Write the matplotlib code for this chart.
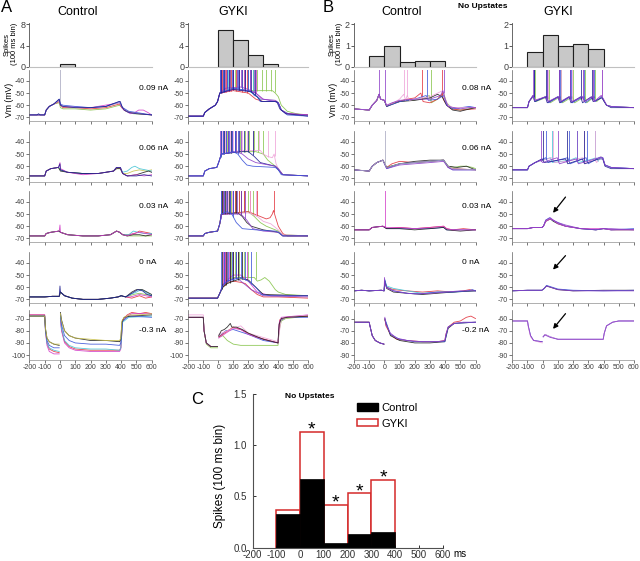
import numpy as np
import matplotlib.pyplot as plt
from matplotlib.patches import Patch

plt.rcParams['font.family'] = ['Liberation Sans', 'DejaVu Sans']
plt.rcParams['axes.unicode_minus'] = False

nan = np.nan

# trace colours
K, NV, BL, RD, MG = '#202020', '#1f1f8f', '#3a52d8', '#e2323c', '#d23cc8'
GR, CY, PU, PK, YE, GY = '#86c44a', '#44c4d4', '#8c3ec8', '#eea2d8', '#c8c04a', '#a8a8c0'

# spike histograms, 100 ms bins (left edges)
bins = [-100, 0, 100, 200, 300]
hist_a_ctl = [0, 0.5, 0, 0, 0]
hist_a_gyki = [0, 6.9, 5.1, 2.25, 0.65]
hist_b_ctl = [0.51, 1.0, 0.22, 0.29, 0.29]
hist_b_gyki = [0.70, 1.51, 1.0, 1.09, 0.84]

# panel C
c_bins = [-100, 0, 100, 200, 300]
c_control = [0.33, 0.67, 0.05, 0.13, 0.15]
c_gyki = [0.37, 1.13, 0.42, 0.53, 0.66]
c_sig = [False, True, True, True, True]

# current steps
a_currents = ['0.09 nA', '0.06 nA', '0.03 nA', '0 nA', '-0.3 nA']
b_currents = ['0.08 nA', '0.06 nA', '0.03 nA', '0 nA', '-0.2 nA']

# ---------------- A, control: traces (time ms, Vm mV), spike times
pre_ac1 = [(-200, -68), (-150, -68), (-100, -68), (-90, -64), (-70, -61), (-40, -59)]
a_ctl_r1 = [
    (GR, pre_ac1 + [(-5, -58), (3, -62), (20, -63), (100, -63), (200, -64), (300, -63), (390, -60), (405, -62), (430, -65), (480, -67), (600, -68)], []),
    (RD, pre_ac1 + [(-5, -57), (3, -60), (20, -62), (100, -62), (200, -63), (300, -62), (390, -59), (405, -62), (420, -64), (460, -66), (520, -67), (600, -68)], []),
    (MG, pre_ac1 + [(-5, -56), (3, -60), (20, -61), (200, -62), (390, -58), (405, -62), (420, -64), (460, -67), (490, -66), (515, -64), (545, -64), (575, -66), (600, -68)], []),
    (GY, pre_ac1 + [(-5, -56), (3, -60), (20, -61), (100, -62), (200, -62), (300, -61), (390, -58), (410, -62), (450, -66), (600, -68)], [0]),
    (BL, pre_ac1 + [(-5, -55), (3, -59), (20, -60), (100, -61), (200, -62), (300, -61), (390, -57), (410, -62), (450, -65), (500, -66), (550, -67), (600, -68)], []),
    (NV, [(-200, -68), (-150, -68), (-140, -67), (-130, -68), (-100, -68), (-90, -64), (-70, -61), (-40, -59), (-5, -55), (3, -60), (20, -61), (100, -62), (200, -62), (300, -61), (385, -57), (395, -57), (405, -61), (420, -64), (450, -66), (500, -67), (600, -68)], []),
]

pre_ac2 = [(-200, -68), (-100, -68), (-90, -64), (-60, -62), (-10, -61)]
a_ctl_r2 = [
    (YE, pre_ac2 + [(3, -63), (50, -65), (150, -66), (250, -66), (350, -64), (370, -62), (395, -62), (410, -66), (440, -66), (480, -64), (520, -63), (560, -64), (600, -63)], []),
    (CY, pre_ac2 + [(3, -63), (50, -65), (150, -66), (250, -66), (350, -64), (370, -61), (395, -61), (410, -65), (440, -64), (470, -61), (490, -60), (520, -62), (560, -63), (600, -64)], []),
    (K, pre_ac2 + [(3, -64), (50, -65), (150, -66), (250, -66), (350, -64), (370, -62), (395, -62), (410, -66), (440, -68), (500, -67), (550, -65), (580, -64), (600, -65)], []),
    (MG, pre_ac2 + [(0, -57), (3, -62), (50, -65), (150, -67), (250, -66), (350, -64), (370, -61), (395, -61), (410, -66), (440, -68), (500, -67), (550, -68), (600, -67)], []),
    (NV, pre_ac2 + [(0, -58), (3, -63), (50, -65), (150, -66), (250, -66), (350, -64), (370, -61), (395, -61), (410, -66), (440, -68), (500, -68), (550, -67), (600, -68)], []),
]

pre_ac3 = [(-200, -68), (-100, -68), (-90, -66), (-60, -65), (-5, -64)]
post_ac3 = [(3, -65), (50, -67), (150, -68), (250, -68), (330, -67), (370, -64), (390, -65), (410, -67)]
a_ctl_r3 = [
    (GR, pre_ac3 + post_ac3 + [(440, -68), (500, -68), (600, -68)], []),
    (RD, pre_ac3 + post_ac3 + [(450, -67), (490, -66), (520, -64), (560, -65), (600, -66)], []),
    (CY, pre_ac3 + post_ac3 + [(450, -67), (480, -64), (510, -65), (550, -66), (600, -66)], []),
    (K, pre_ac3 + post_ac3 + [(440, -68), (480, -67), (520, -67), (560, -68), (600, -67)], []),
    (MG, pre_ac3 + [(0, -59)] + post_ac3 + [(440, -68), (480, -66), (520, -65), (560, -66), (600, -67)], []),
]

pre_ac4 = [(-200, -68), (-100, -68), (-50, -67.5), (-5, -67.5)]
post_ac4 = [(3, -64), (30, -67), (80, -69), (150, -70), (250, -70), (330, -69), (380, -68), (400, -67), (430, -68)]
a_ctl_r4 = [
    (RD, pre_ac4 + post_ac4 + [(470, -69), (520, -67), (560, -69), (600, -68)], []),
    (GR, pre_ac4 + post_ac4 + [(480, -66), (520, -65), (560, -66), (600, -67)], []),
    (MG, pre_ac4 + post_ac4 + [(460, -68), (520, -66), (560, -67), (600, -68)], []),
    (CY, pre_ac4 + post_ac4 + [(460, -66), (500, -64), (530, -62), (560, -64), (600, -67)], []),
    (K, pre_ac4 + post_ac4 + [(470, -64), (500, -62), (540, -62), (570, -64), (600, -66)], []),
    (NV, pre_ac4 + [(0, -59)] + post_ac4 + [(470, -65), (510, -62), (540, -63), (570, -66), (600, -67)], []),
]

a_ctl_r5 = [
    (RD, [(-200, -67), (-100, -67), (-95, -80), (-85, -90), (-70, -95), (-40, -97), (-5, -98), (0, nan), (3, -70), (10, -79), (30, -89), (60, -93), (100, -95), (200, -96), (300, -96), (390, -96), (398, -94), (410, -71), (440, -67), (470, -65), (520, -66), (560, -65), (600, -66)], []),
    (MG, [(-200, -67), (-100, -67), (-95, -81), (-85, -92), (-70, -97), (-40, -99), (-5, -99), (0, nan), (3, -70), (10, -80), (30, -90), (60, -94), (100, -96), (200, -97), (300, -97), (390, -97), (398, -95), (410, -72), (440, -68), (470, -66), (540, -66), (600, -66)], []),
    (CY, [(-200, -68), (-100, -68), (-95, -80), (-85, -90), (-70, -94), (-40, -96), (-5, -97), (0, nan), (3, -68), (10, -78), (30, -88), (60, -92), (100, -94), (200, -95), (300, -95), (390, -96), (398, -94), (410, -73), (450, -69), (600, -68)], []),
    (BL, [(-200, -68), (-100, -68), (-95, -79), (-85, -88), (-70, -92), (-40, -94), (-5, -94), (0, nan), (3, -67), (10, -75), (30, -84), (60, -88), (100, -90), (200, -91), (300, -91), (390, -92), (398, -90), (410, -72), (450, -68), (600, -69)], []),
    (K, [(-200, -68), (-100, -68), (-95, -78), (-85, -86), (-70, -89), (-40, -91), (-5, -92), (0, nan), (3, -65), (10, -71), (30, -80), (60, -84), (100, -86), (200, -88), (300, -88), (390, -89), (398, -87), (405, -73), (420, -69), (460, -68), (600, -67)], []),
    (YE, [(-200, -68), (-100, -68), (-95, -78), (-85, -86), (-70, -89), (-40, -91), (-5, -91), (0, nan), (3, -66), (10, -72), (30, -80), (60, -84), (100, -86), (200, -87), (300, -88), (390, -88), (398, -86), (405, -72), (420, -69), (460, -67), (520, -67), (600, -66)], []),
]

# ---------------- A, GYKI
pre_ag1 = [(-200, -69), (-100, -69), (-90, -66), (-60, -63), (-20, -60), (-5, -57), (10, -50)]
a_gyki_r1 = [
    (GR, pre_ag1 + [(100, -47), (200, -48), (300, -48), (360, -48), (380, -50), (400, -53), (420, -60), (460, -65), (520, -67), (600, -68)], [20, 45, 80, 110, 140, 170, 200, 230, 260, 290, 320, 350, 375]),
    (CY, pre_ag1 + [(100, -46), (200, -48), (240, -51), (280, -55), (380, -56), (400, -58), (420, -64), (470, -67), (600, -68)], [15, 40, 65, 95, 125, 160, 195, 230]),
    (RD, pre_ag1 + [(100, -48), (200, -50), (250, -55), (300, -57), (380, -57), (400, -58), (420, -64), (460, -67), (600, -68)], [25, 50, 85, 120, 155, 190]),
    (MG, pre_ag1 + [(100, -47), (200, -48), (250, -50), (290, -55), (380, -56), (400, -58), (420, -64), (460, -67), (600, -68)], [18, 42, 70, 100, 135, 170, 210, 250]),
    (PU, pre_ag1 + [(50, -46), (150, -45), (200, -47), (250, -50), (300, -55), (380, -57), (400, -58), (420, -64), (460, -67), (600, -68)], [12, 30, 55, 75, 100, 125, 150, 180, 210, 240]),
    (BL, pre_ag1 + [(100, -46), (200, -48), (220, -49), (240, -52), (260, -53), (280, -57), (380, -57), (400, -58), (420, -64), (460, -68), (600, -69)], [12, 28, 60, 90, 130, 160, 200]),
    (NV, pre_ag1 + [(100, -47), (220, -49), (250, -52), (290, -57), (390, -57), (410, -63), (450, -67), (600, -69)], [18, 38, 70, 95, 140, 180, 220, 245]),
]

pre_ag2 = [(-200, -68), (-100, -68), (-90, -64), (-60, -62), (-10, -61), (5, -56), (20, -50)]
a_gyki_r2 = [
    (GR, pre_ag2 + [(150, -48), (250, -48), (300, -50), (330, -55), (380, -60), (400, -62), (430, -67), (600, -68)], [15, 35, 60, 85, 115, 145, 175, 205, 235, 265, 295]),
    (PK, pre_ag2 + [(150, -47), (280, -47), (300, -50), (330, -52), (360, -53), (372, -50), (385, -58), (400, -62), (430, -67), (600, -68)], [25, 45, 75, 100, 130, 160, 190, 230, 270, 330, 375]),
    (NV, pre_ag2 + [(150, -48), (200, -48), (240, -52), (280, -57), (380, -60), (400, -63), (430, -67), (600, -68)], [20, 40, 65, 85, 110, 140, 170, 200, 230]),
    (PU, pre_ag2 + [(120, -48), (160, -50), (200, -54), (250, -57), (380, -60), (400, -62), (430, -67), (600, -68)], [12, 28, 48, 66, 88, 120, 150]),
    (BL, pre_ag2 + [(100, -48), (130, -50), (160, -55), (190, -59), (230, -60), (380, -61), (400, -63), (420, -67), (600, -68)], [15, 30, 50, 70, 90, 110, 130]),
]

pre_ag3 = [(-200, -68), (-100, -68), (-90, -66), (-60, -65), (-5, -64), (10, -58), (20, -50)]
a_gyki_r3 = [
    (GR, pre_ag3 + [(200, -48), (240, -52), (280, -57), (320, -60), (400, -64), (430, -67), (600, -68)], [22, 40, 60, 85, 110, 140, 170, 200, 230]),
    (RD, pre_ag3 + [(200, -48), (240, -50), (280, -52), (320, -54), (345, -53), (360, -50), (368, -47), (380, -52), (400, -60), (430, -66), (460, -68), (600, -68)], [30, 55, 80, 110, 140, 170, 210, 260, 372]),
    (PK, pre_ag3 + [(200, -49), (260, -52), (300, -56), (350, -58), (400, -63), (430, -67), (600, -68)], [18, 38, 62, 90, 120, 150, 180, 210, 250]),
    (K, pre_ag3 + [(130, -49), (160, -52), (190, -57), (220, -60), (300, -63), (400, -65), (430, -68), (600, -68)], [25, 45, 70, 95, 120, 150]),
    (PU, pre_ag3 + [(150, -50), (190, -55), (230, -62), (300, -64), (400, -65), (430, -68), (600, -68)], [15, 30, 50, 75, 95, 125, 150, 180]),
    (BL, pre_ag3 + [(60, -48), (90, -50), (120, -57), (160, -62), (250, -63), (380, -64), (400, -65), (430, -68), (600, -68)], [20, 35, 55, 80, 100]),
]

pre_ag4 = [(-200, -69), (-100, -69), (-5, -69), (10, -65)]
a_gyki_r4 = [
    (GR, pre_ag4 + [(30, -60), (60, -56), (100, -52), (200, -52), (240, -52), (260, -55), (285, -54), (310, -52), (340, -55), (380, -62), (400, -64), (450, -66), (600, -67)], [60, 85, 110, 140, 170, 200, 250]),
    (RD, pre_ag4 + [(30, -60), (60, -56), (100, -55), (150, -56), (180, -57), (220, -62), (260, -66), (300, -68), (400, -68), (600, -69)], [45]),
    (MG, pre_ag4 + [(30, -58), (60, -54), (100, -50), (150, -50), (200, -55), (260, -64), (350, -67), (600, -67)], [30, 45, 70, 100, 130, 190]),
    (PU, pre_ag4 + [(30, -58), (60, -55), (120, -52), (160, -56), (220, -62), (300, -67), (600, -68)], [35, 55, 80, 120]),
    (K, pre_ag4 + [(30, -60), (60, -57), (100, -55), (150, -53), (200, -54), (250, -60), (300, -66), (600, -67)], [25, 50, 75, 95, 130, 160]),
    (BL, pre_ag4 + [(30, -59), (60, -55), (150, -52), (200, -55), (250, -60), (290, -66), (350, -67), (600, -67)], [20, 40, 65, 90, 120, 150, 180, 220]),
]

pre_ag5 = [(-200, -69), (-100, -69), (-95, -80), (-80, -90), (-50, -93), (-5, -93), (0, nan)]
a_gyki_r5 = [
    (GR, [(-200, -69), (-100, -69), (-95, -80), (-80, -91), (-50, -94), (-5, -94), (0, nan), (3, -85), (30, -84), (60, -88), (100, -91), (150, -92), (398, -92), (405, -80), (420, -72), (450, -70), (600, -68)], []),
    (BL, pre_ag5 + [(3, -85), (50, -80), (100, -79), (200, -83), (300, -88), (398, -90), (410, -72), (450, -69), (600, -69)], []),
    (RD, pre_ag5 + [(3, -85), (40, -82), (100, -77), (150, -79), (250, -85), (398, -90), (410, -71), (450, -69), (600, -68)], []),
    (MG, pre_ag5 + [(3, -86), (50, -82), (100, -78), (150, -79), (200, -83), (300, -87), (398, -90), (405, -74), (420, -69), (600, -67)], []),
    (PK, [(-200, -67), (-100, -67), (-95, -80), (-80, -90), (-50, -93), (-5, -93), (0, nan), (3, -83), (60, -80), (100, -78), (150, -76), (200, -82), (398, -89), (420, -70), (600, -67)], []),
    (K, pre_ag5 + [(3, -84), (20, -80), (40, -79), (60, -77), (80, -74), (90, -77), (120, -77), (160, -79), (200, -82), (300, -87), (398, -90), (405, -75), (420, -70), (460, -69), (600, -68)], []),
]

# ---------------- B, control
pre_bc1 = [(-200, -63), (-100, -64), (-80, -60), (-50, -56), (-35, -51), (-25, -55), (0, -56)]
b_ctl_r1 = [
    (GR, pre_bc1 + [(15, -61), (60, -58), (150, -56), (250, -55), (295, -52), (310, -58), (350, -55), (390, -50), (410, -58), (450, -63), (500, -64), (600, -62)], [305]),
    (RD, pre_bc1 + [(15, -61), (60, -58), (150, -55), (200, -54), (240, -50), (255, -57), (300, -58), (350, -55), (378, -51), (392, -56), (410, -60), (440, -63), (500, -64), (600, -63)], [246, 381]),
    (K, pre_bc1 + [(15, -61), (100, -57), (200, -56), (300, -54), (350, -51), (380, -53), (410, -60), (450, -64), (500, -65), (530, -64), (600, -62)], []),
    (BL, pre_bc1 + [(15, -61), (100, -57), (200, -55), (275, -52), (290, -56), (350, -55), (390, -52), (410, -60), (450, -63), (560, -61), (600, -62)], [279]),
    (PK, pre_bc1 + [(15, -60), (60, -58), (100, -55), (128, -51), (140, -56), (150, -52), (165, -56), (200, -55), (300, -53), (385, -48), (400, -55), (420, -60), (450, -62), (600, -62)], [130, 151]),
    (PU, pre_bc1 + [(15, -60), (50, -58), (100, -56), (200, -55), (300, -55), (370, -52), (385, -48), (400, -55), (420, -61), (500, -63), (560, -62), (600, -62)], [-33, 5, 390]),
]

pre_bc2 = [(-200, -63), (-100, -64), (-80, -60), (-50, -57), (-10, -55)]
b_ctl_r2 = [
    (GR, pre_bc2 + [(15, -61), (100, -58), (200, -57), (300, -56), (390, -55), (420, -60), (460, -61), (500, -60), (540, -60), (580, -61), (600, -62)], []),
    (RD, pre_bc2 + [(15, -61), (50, -58), (100, -56), (200, -57), (300, -56), (390, -55), (420, -61), (460, -62), (600, -63)], []),
    (K, pre_bc2 + [(15, -61), (100, -58), (200, -56), (300, -55), (390, -55), (420, -60), (480, -61), (540, -60), (600, -63)], []),
    (BL, pre_bc2 + [(15, -62), (100, -58), (200, -57), (300, -56), (390, -55), (420, -61), (450, -63), (600, -63)], []),
    (PU, pre_bc2 + [(15, -62), (100, -59), (200, -58), (300, -57), (390, -56), (420, -61), (450, -63), (500, -63), (600, -63)], []),
    (GY, pre_bc2 + [(15, -61), (100, -58), (200, -57), (300, -56), (390, -55), (420, -60), (450, -62), (600, -63)], [5]),
]

pre_bc3 = [(-200, -63), (-100, -63), (-80, -61), (-10, -60)]
b_ctl_r3 = [
    (RD, pre_bc3 + [(15, -62), (100, -61), (200, -62), (300, -61), (390, -60), (410, -62), (450, -63), (520, -62), (600, -63)], []),
    (BL, pre_bc3 + [(15, -62), (100, -62), (200, -62), (300, -62), (390, -61), (410, -63), (600, -63)], []),
    (K, pre_bc3 + [(15, -62), (100, -62), (200, -63), (300, -62), (390, -61), (410, -63), (500, -64), (600, -63)], []),
    (MG, pre_bc3 + [(15, -61), (100, -61), (200, -62), (300, -61), (390, -60), (410, -62), (450, -63), (600, -63)], [5]),
]

pre_bc4 = [(-200, -63), (-150, -62.5), (-100, -63), (-20, -62.5), (-2, -63)]
b_ctl_r4 = [
    (RD, pre_bc4 + [(3, -55), (15, -60), (60, -62), (150, -63), (250, -64), (350, -63), (450, -64), (520, -63), (560, -62), (600, -63)], []),
    (CY, pre_bc4 + [(3, -54), (15, -59), (60, -61), (150, -63), (250, -65), (350, -64), (450, -64), (600, -63)], []),
    (K, pre_bc4 + [(3, -55), (15, -61), (60, -64), (150, -65), (250, -66), (350, -65), (450, -64), (600, -63)], []),
    (BL, pre_bc4 + [(3, -54), (15, -60), (60, -63), (150, -65), (235, -65.5), (350, -64), (450, -64), (550, -63), (580, -62), (600, -63)], []),
    (PU, pre_bc4 + [(1, -52), (5, -58), (20, -61), (60, -63), (150, -65), (200, -65.5), (300, -65), (400, -64), (500, -63), (600, -63)], []),
]

pre_bc5 = [(-200, -63), (-100, -63), (-95, -66), (-80, -74), (-60, -78), (-30, -80), (-3, -81), (0, nan)]
b_ctl_r5 = [
    (RD, pre_bc5 + [(3, -60), (10, -66), (40, -73), (80, -77), (150, -78), (250, -79), (350, -79), (398, -78), (405, -73), (420, -67), (460, -63), (500, -62), (540, -59), (570, -58), (600, -60)], []),
    (K, pre_bc5 + [(3, -61), (40, -74), (100, -78), (200, -80), (300, -80), (398, -79), (420, -68), (460, -64), (600, -63)], []),
    (BL, pre_bc5 + [(3, -60), (40, -73), (100, -77), (200, -79), (300, -79), (398, -79), (420, -67), (460, -64), (600, -63)], []),
    (PU, pre_bc5 + [(3, -59), (10, -65), (40, -72), (80, -76), (150, -78), (250, -79), (350, -79), (398, -78), (405, -73), (420, -67), (460, -64), (520, -63), (600, -63)], []),
]

# ---------------- B, GYKI
b_gyki_r1 = [
    (GR, [(-200, -62), (-100, -62), (-90, -57), (-55, -52), (-45, -57), (35, -53), (50, -58), (115, -53), (130, -58), (195, -53), (210, -58), (275, -53), (290, -58), (340, -53), (355, -57), (390, -53), (400, -56), (420, -60), (450, -61), (600, -62)], [-50, 40, 122, 200, 280, 345]),
    (PK, [(-200, -62), (-100, -62), (-90, -57), (-58, -52), (-48, -56), (28, -53), (42, -57), (112, -53), (125, -57), (188, -53), (200, -57), (258, -53), (270, -57), (325, -53), (338, -57), (385, -52), (400, -55), (420, -60), (450, -61), (600, -62)], [-55, 33, 118, 192, 262, 330, 390]),
    (BL, [(-200, -62), (-100, -62), (-90, -57), (-60, -52), (-50, -57), (25, -53), (40, -58), (105, -53), (120, -58), (180, -53), (195, -58), (265, -53), (280, -58), (335, -53), (345, -57), (390, -53), (400, -56), (420, -60), (450, -61), (600, -62)], [-58, 30, 112, 185, 272, 338]),
    (NV, [(-200, -62), (-100, -62), (-90, -57), (-63, -52), (-53, -57), (17, -53), (30, -58), (100, -53), (112, -58), (173, -53), (186, -58), (250, -53), (262, -58), (320, -53), (332, -57), (390, -54), (400, -56), (420, -60), (450, -62), (600, -62)], [-60, 22, 104, 178, 255, 325]),
    (PU, [(-200, -62), (-100, -62), (-90, -57), (-65, -52), (-55, -56), (20, -53), (35, -57), (100, -53), (115, -57), (175, -53), (190, -57), (260, -53), (275, -57), (328, -53), (340, -57), (385, -52), (400, -55), (420, -60), (450, -61), (600, -62)], [-62, 26, 107, 180, 267, 333, 388]),
]

pre_bg2 = [(-200, -63), (-100, -63), (-90, -60), (-50, -57)]
b_gyki_r2 = [
    (CY, pre_bg2 + [(50, -53), (65, -57), (180, -55), (220, -53), (235, -57), (330, -54), (350, -53), (365, -56), (380, -52), (395, -53), (410, -59), (450, -61), (600, -62)], [58, 224, 347]),
    (PK, pre_bg2 + [(60, -53), (75, -57), (150, -56), (265, -53), (280, -58), (340, -54), (355, -57), (380, -52), (395, -53), (410, -59), (450, -61), (600, -62)], [68, 270, 345]),
    (BL, pre_bg2 + [(20, -53), (35, -57), (165, -53), (180, -58), (285, -53), (300, -58), (370, -53), (395, -53), (410, -59), (450, -61), (600, -62)], [25, 170, 290]),
    (NV, pre_bg2 + [(-5, -54), (10, -57), (150, -54), (165, -58), (260, -54), (275, -58), (370, -54), (395, -54), (410, -60), (450, -62), (600, -62)], [0, 160, 269]),
    (PU, pre_bg2 + [(-15, -55), (0, -57), (95, -53), (110, -58), (220, -54), (235, -58), (370, -53), (395, -53), (410, -59), (450, -61), (600, -62)], [-10, 100, 225]),
]

pre_bg3 = [(-200, -62), (-100, -62), (-60, -61), (-5, -61)]
b_gyki_r3 = [
    (K, pre_bg3 + [(5, -60), (20, -56), (50, -54), (70, -56), (100, -58), (150, -60), (250, -62), (350, -63), (400, -62), (450, -63), (600, -63)], []),
    (BL, pre_bg3 + [(5, -60), (20, -55), (45, -53), (65, -55), (100, -57), (150, -60), (250, -62), (350, -63), (400, -62), (450, -63), (600, -62)], []),
    (MG, pre_bg3 + [(5, -60), (20, -56), (50, -54), (70, -55), (100, -58), (150, -60), (250, -62), (350, -62), (400, -62), (450, -63), (600, -63)], []),
    (PU, pre_bg3 + [(5, -60), (20, -55), (50, -53), (70, -55), (100, -57), (150, -59), (250, -62), (350, -63), (400, -62), (450, -62), (600, -63)], []),
]

pre_bg4 = [(-200, -63), (-100, -62.5), (-5, -62.5)]
b_gyki_r4 = [
    (K, pre_bg4 + [(10, -61), (25, -59), (50, -60), (100, -62), (200, -63), (400, -62.5), (600, -62.5)], []),
    (BL, pre_bg4 + [(10, -61), (25, -58.5), (50, -59.5), (100, -61.5), (200, -62.5), (400, -63), (600, -62.5)], []),
    (PU, pre_bg4 + [(10, -61), (25, -59), (50, -60), (100, -62), (200, -63), (400, -63), (600, -63)], []),
]

b_gyki_r5 = [
    (BL, [(-200, -62), (-100, -62), (-95, -66), (-80, -74), (-60, -78), (-3, -79), (0, nan), (3, -75), (15, -73), (50, -75), (100, -77), (200, -77), (398, -77), (405, -72), (420, -66), (460, -63), (500, -62), (600, -62)], []),
    (PK, [(-200, -62), (-100, -62), (-95, -67), (-80, -75), (-60, -78), (-3, -80), (0, nan), (3, -75), (15, -73), (50, -75), (100, -77), (200, -77), (398, -77), (405, -72), (420, -66), (460, -63), (500, -62), (600, -62)], []),
    (PU, [(-200, -62), (-100, -62), (-95, -66), (-80, -74), (-60, -78), (-3, -79), (0, nan), (3, -75), (15, -73.5), (50, -75.5), (100, -77), (200, -77), (398, -77), (405, -72), (420, -66), (460, -63), (500, -62), (600, -62)], []),
]

# arrows in B GYKI (tip, tail) per row 3..5
b_arrows = [((68, -49), (150, -36)), ((68, -45.5), (150, -34)), ((68, -68.5), (150, -56))]

# ---------------- layout (pixels)
W, H = 640, 561


def box(l, t, r, b):
    return [l / W, 1 - b / H, (r - l) / W, (b - t) / H]


cols = [(29.4, 151.7), (188.3, 308.3), (354, 475.5), (512.3, 633.9)]
rows = [(70, 121), (131, 182), (191, 242), (252, 303), (310, 360)]
hist_rows = (23, 67)

columns = [
    (hist_a_ctl, (0, 8.2), [0, 4, 8], [a_ctl_r1, a_ctl_r2, a_ctl_r3, a_ctl_r4, a_ctl_r5], (-104, -63), [-70, -80, -90, -100]),
    (hist_a_gyki, (0, 8.2), [0, 4, 8], [a_gyki_r1, a_gyki_r2, a_gyki_r3, a_gyki_r4, a_gyki_r5], (-104, -63), [-70, -80, -90, -100]),
    (hist_b_ctl, (0, 2.05), [0, 1, 2], [b_ctl_r1, b_ctl_r2, b_ctl_r3, b_ctl_r4, b_ctl_r5], (-94, -53), [-60, -70, -80, -90]),
    (hist_b_gyki, (0, 2.05), [0, 1, 2], [b_gyki_r1, b_gyki_r2, b_gyki_r3, b_gyki_r4, b_gyki_r5], (-94, -53), [-60, -70, -80, -90]),
]

fig = plt.figure(figsize=(6.4, 5.61), dpi=100)
fig.patch.set_facecolor('white')

for ci, (hist, hylim, hticks, traces, ylim5, yticks5) in enumerate(columns):
    l, r = cols[ci]
    # histogram
    ah = fig.add_axes(box(l, hist_rows[0], r, hist_rows[1]))
    keep = [i for i, v in enumerate(hist) if v > 0]
    ah.bar([bins[i] for i in keep], [hist[i] for i in keep], width=100, align='edge',
           color='#c8c8c8', edgecolor='#202020', linewidth=0.8)
    ah.set_xlim(-200, 600)
    ah.set_ylim(*hylim)
    ah.set_yticks(hticks)
    ah.set_xticks([])
    for s in ['top', 'right']:
        ah.spines[s].set_visible(False)
    ah.spines['bottom'].set_color('#c0c0c0')
    ah.spines['left'].set_color('#505050')
    ah.spines['left'].set_linewidth(0.6)
    ah.tick_params(axis='y', labelsize=6.5, length=2, width=0.6, pad=1, colors='#404040')

    for ri, row in enumerate(traces):
        t, b = rows[ri]
        ax = fig.add_axes(box(l, t, r, b))
        for color, pts, spikes in row:
            a = np.array(pts, dtype=float)
            ax.plot(a[:, 0], a[:, 1], color=color, lw=0.6, alpha=0.9)
            if spikes:
                base = np.interp(spikes, a[:, 0], a[:, 1])
                ax.vlines(spikes, base, 0, color=color, lw=0.6, alpha=0.9)
        ax.set_xlim(-200, 600)
        if ri < 4:
            ax.set_ylim(-73, -31)
            ax.set_yticks([-40, -50, -60, -70])
        else:
            ax.set_ylim(*ylim5)
            ax.set_yticks(yticks5)
        ax.set_xticks(range(-200, 601, 100))
        if ri < 4:
            ax.set_xticklabels([])
        for s in ['top', 'right']:
            ax.spines[s].set_visible(False)
        ax.spines['left'].set_color('#606060')
        ax.spines['bottom'].set_color('#909090')
        ax.spines['left'].set_linewidth(0.5)
        ax.spines['bottom'].set_linewidth(0.5)
        ax.tick_params(labelsize=5, length=2, width=0.5, pad=1, colors='#404040')
        if ci == 3 and ri >= 2:
            tip, tail = b_arrows[ri - 2]
            ax.annotate('', xy=tip, xytext=tail,
                        arrowprops=dict(arrowstyle='-|>', color='black', lw=0.9,
                                        mutation_scale=7, shrinkA=0, shrinkB=0))

# text labels
fig.text(7 / W, 1 - 8 / H, 'A', fontsize=12, ha='center', va='center')
fig.text(328 / W, 1 - 8 / H, 'B', fontsize=12, ha='center', va='center')
for x, s in [(78, 'Control'), (233, 'GYKI'), (402, 'Control'), (558, 'GYKI')]:
    fig.text(x / W, 1 - 12 / H, s, fontsize=9, ha='center', va='center')
fig.text(483 / W, 1 - 6 / H, 'No Upstates', fontsize=6, fontweight='bold', ha='center', va='center')
for x in [11, 336]:
    fig.text(x / W, 1 - 44 / H, 'Spikes\n(100 ms bin)', fontsize=5.5, rotation=90,
             ha='center', va='center', linespacing=0.95)
for x in [9, 334]:
    fig.text(x / W, 1 - 100 / H, 'Vm (mV)', fontsize=6.2, rotation=90, ha='center', va='center')

label_y = [89, 148, 206, 262, 331]
for i in range(5):
    fig.text(139 / W, 1 - label_y[i] / H, a_currents[i], fontsize=6, ha='left', va='center')
    fig.text(462 / W, 1 - label_y[i] / H, b_currents[i], fontsize=6, ha='left', va='center')

# ---------------- panel C
axc = fig.add_axes(box(252.5, 393.7, 442.5, 547.7))
axc.bar(c_bins, c_gyki, width=100, align='edge', color='white', edgecolor='#d42a2a', linewidth=1.1, zorder=1)
axc.bar(c_bins, c_control, width=100, align='edge', color='black', edgecolor='black', linewidth=0.5, zorder=2)
for i, sig in enumerate(c_sig):
    if sig:
        axc.text(c_bins[i] + 50, c_gyki[i] + 0.015, '*', ha='center', va='center', fontsize=14)
axc.set_xlim(-200, 600)
axc.set_ylim(0, 1.5)
axc.set_xticks(range(-200, 601, 100))
axc.set_yticks([0, 0.5, 1.0, 1.5])
axc.set_yticklabels(['0.0', '0.5', '1.0', '1.5'])
for s in ['top', 'right']:
    axc.spines[s].set_visible(False)
axc.spines['left'].set_color('#505050')
axc.spines['bottom'].set_color('#505050')
axc.tick_params(labelsize=7, length=2.5, width=0.7, colors='#303030', direction='in')
axc.tick_params(axis='x', pad=2)
axc.tick_params(axis='y', pad=4)
fig.text(220 / W, 1 - 476 / H, 'Spikes (100 ms bin)', fontsize=8.5, rotation=90, ha='center', va='center')
fig.text(460 / W, 1 - 554 / H, 'ms', fontsize=7, ha='center', va='center')
fig.text(197 / W, 1 - 400 / H, 'C', fontsize=12, ha='center', va='center')
fig.text(310 / W, 1 - 397 / H, 'No Upstates', fontsize=6, fontweight='bold', ha='center', va='center')

handles = [Patch(facecolor='black', edgecolor='black'),
           Patch(facecolor='white', edgecolor='#d42a2a', linewidth=1.1)]
fig.legend(handles, ['Control', 'GYKI'], loc='upper left', bbox_to_anchor=(357 / W, 1 - 403 / H),
           frameon=False, fontsize=8, handlelength=1.9, handleheight=0.65,
           labelspacing=0.5, handletextpad=0.3, borderpad=0, borderaxespad=0)

fig.savefig('out.png', dpi=100)
